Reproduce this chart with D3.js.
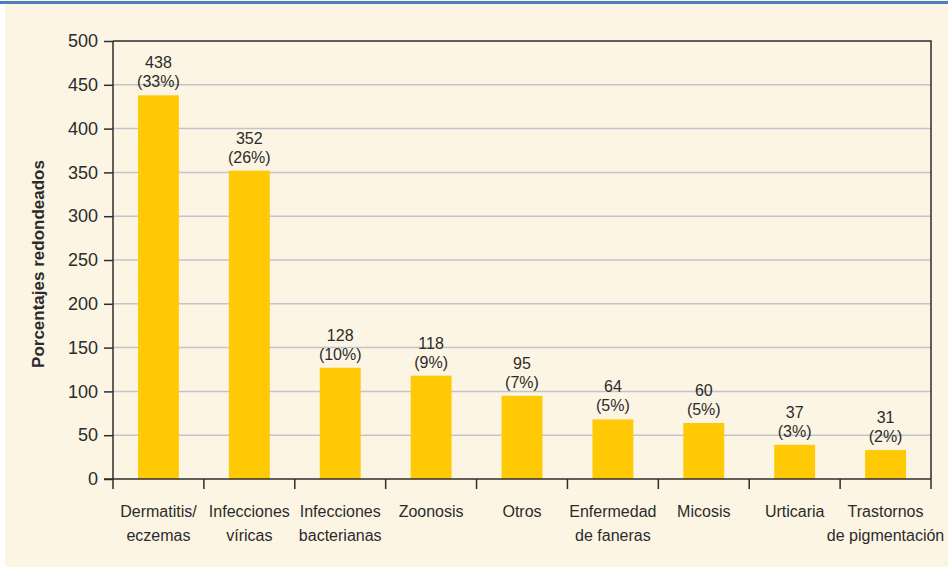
<!DOCTYPE html>
<html lang="es">
<head>
  <meta charset="utf-8">
  <title>Porcentajes redondeados</title>
  <script src="https://d3js.org/d3.v7.min.js"></script>
  <style>
    body { margin: 0; background: #ffffff; }
    text { font-family: "Liberation Sans", Arial, sans-serif; fill: #2b2b2b; }
  </style>
</head>
<body>
<script>
  // categories (two-line labels)
  var categories = [
    ["Dermatitis/", "eczemas"],
    ["Infecciones", "víricas"],
    ["Infecciones", "bacterianas"],
    ["Zoonosis"],
    ["Otros"],
    ["Enfermedad", "de faneras"],
    ["Micosis"],
    ["Urticaria"],
    ["Trastornos", "de pigmentación"]
  ];
  // bar heights as drawn
  var barValues = [438, 352, 127, 118, 95, 68, 64, 39, 33];
  // printed labels above bars
  var countLabels = ["438", "352", "128", "118", "95", "64", "60", "37", "31"];
  var pctLabels = ["(33%)", "(26%)", "(10%)", "(9%)", "(7%)", "(5%)", "(5%)", "(3%)", "(2%)"];
  var yTicks = [0, 50, 100, 150, 200, 250, 300, 350, 400, 450, 500];

  var svgW = 948, svgH = 567;
  var plotL = 113, plotR = 931, plotT = 41, plotB = 479;

  var svg = d3.select("body").append("svg")
      .attr("width", svgW)
      .attr("height", svgH);

  // background panel
  svg.append("rect")
     .attr("x", 5).attr("y", 0)
     .attr("width", svgW - 5).attr("height", svgH)
     .attr("fill", "#fdf5e4");
  svg.append("rect")
     .attr("x", 0).attr("y", 1)
     .attr("width", svgW).attr("height", 3)
     .attr("fill", "#4a7fc1");

  var idx = d3.range(categories.length);

  var x = d3.scaleBand()
      .domain(idx)
      .range([plotL, plotR])
      .paddingInner(0.55)
      .paddingOuter(0.275);

  var y = d3.scaleLinear()
      .domain([0, 500])
      .range([plotB, plotT]);

  // grid lines
  svg.selectAll(".grid")
     .data(yTicks.filter(function(d) { return d > 0 && d < 500; }))
     .enter().append("line")
       .attr("x1", plotL).attr("x2", plotR)
       .attr("y1", function(d) { return y(d); })
       .attr("y2", function(d) { return y(d); })
       .attr("stroke", "#c3c3ca")
       .attr("stroke-width", 1.5);

  // frame top + right
  svg.append("path")
     .attr("d", "M" + plotL + "," + plotT + "H" + plotR + "V" + plotB)
     .attr("fill", "none")
     .attr("stroke", "#2d2d2d")
     .attr("stroke-width", 1.5);

  // bars
  svg.selectAll(".bar")
     .data(idx)
     .enter().append("rect")
       .attr("x", function(i) { return x(i); })
       .attr("y", function(i) { return y(barValues[i]); })
       .attr("width", x.bandwidth())
       .attr("height", function(i) { return y(0) - y(barValues[i]); })
       .attr("fill", "#ffc905");

  // value labels (two separate lines)
  svg.selectAll(".cnt")
     .data(idx)
     .enter().append("text")
       .attr("text-anchor", "middle")
       .attr("font-size", "16px")
       .attr("x", function(i) { return x(i) + x.bandwidth() / 2; })
       .attr("y", function(i) { return y(barValues[i]) - 27; })
       .text(function(i) { return countLabels[i]; });
  svg.selectAll(".pct")
     .data(idx)
     .enter().append("text")
       .attr("text-anchor", "middle")
       .attr("font-size", "16px")
       .attr("x", function(i) { return x(i) + x.bandwidth() / 2; })
       .attr("y", function(i) { return y(barValues[i]) - 8; })
       .text(function(i) { return pctLabels[i]; });

  // y axis
  var yAxis = svg.append("g")
     .attr("transform", "translate(" + plotL + ",0)")
     .call(d3.axisLeft(y).tickValues(yTicks).tickSize(9).tickPadding(6));
  yAxis.selectAll("line, path").attr("stroke", "#2d2d2d").attr("stroke-width", 1.5);
  yAxis.select(".domain").attr("d", "M0," + plotT + "V" + plotB);
  yAxis.selectAll("text")
       .attr("font-size", "18px")
       .attr("font-family", "Liberation Sans, Arial, sans-serif")
       .attr("fill", "#2b2b2b");

  // x axis (ticks on band boundaries)
  var boundaries = d3.range(categories.length + 1).map(function(i) {
    return plotL + i * (plotR - plotL) / categories.length;
  });
  svg.append("line")
     .attr("x1", plotL - 9).attr("x2", plotR)
     .attr("y1", plotB).attr("y2", plotB)
     .attr("stroke", "#2d2d2d").attr("stroke-width", 1.5);
  svg.selectAll(".xt")
     .data(boundaries)
     .enter().append("line")
       .attr("x1", function(d) { return d; }).attr("x2", function(d) { return d; })
       .attr("y1", plotB).attr("y2", plotB + 10)
       .attr("stroke", "#2d2d2d").attr("stroke-width", 1.5);

  // category labels
  var cat = svg.selectAll(".cat")
     .data(idx)
     .enter().append("text")
       .attr("text-anchor", "middle")
       .attr("font-size", "16px");
  cat.each(function(i) {
    var t = d3.select(this);
    categories[i].forEach(function(line, k) {
      t.append("tspan")
       .attr("x", x(i) + x.bandwidth() / 2)
       .attr("y", 517 + k * 24)
       .text(line);
    });
  });

  // y axis title
  svg.append("text")
     .attr("transform", "translate(44,264) rotate(-90)")
     .attr("text-anchor", "middle")
     .attr("font-size", "17px")
     .attr("font-weight", "bold")
     .text("Porcentajes redondeados");
</script>
</body>
</html>
